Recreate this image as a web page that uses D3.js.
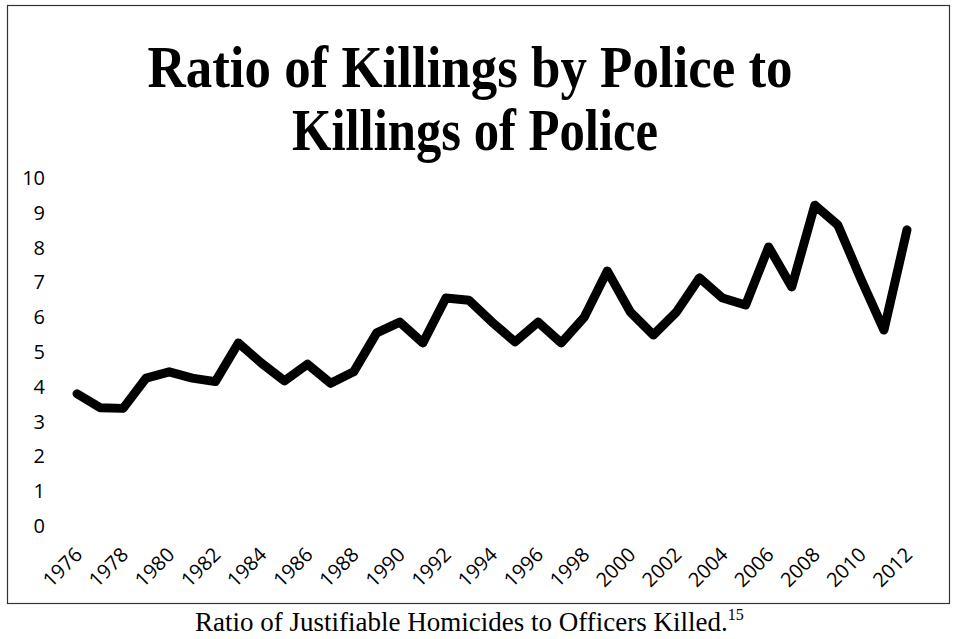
<!DOCTYPE html>
<html>
<head>
<meta charset="utf-8">
<script src="https://cdn.jsdelivr.net/npm/d3@7"></script>
<style>
  html, body { margin: 0; padding: 0; background: #fff; }
  svg { display: block; }
</style>
</head>
<body>
<svg id="chart" width="953" height="639"></svg>
<script>
// ---- data ----
const years = d3.range(1976, 2013);
const ratios = [3.8, 3.4, 3.38, 4.25, 4.43, 4.25, 4.15, 5.26, 4.68, 4.17, 4.65, 4.1, 4.43,
                5.55, 5.86, 5.26, 6.55, 6.49, 5.86, 5.29, 5.86, 5.26, 6.0, 7.33, 6.15, 5.49,
                6.15, 7.13, 6.55, 6.35, 8.02, 6.87, 9.22, 8.65, 7.1, 5.63, 8.51];
const yTicks = [0, 1, 2, 3, 4, 5, 6, 7, 8, 9, 10];
const xTickYears = years.filter(y => (y - 1976) % 2 === 0);
const titleLines = ["Ratio of Killings by Police to", "Killings of Police"];
const captionText = "Ratio of Justifiable Homicides to Officers Killed.";
const footnote = "15";

const svg = d3.select("#chart");

// frame
svg.append("rect")
  .attr("x", 7.5).attr("y", 5.5).attr("width", 942).attr("height", 598)
  .attr("fill", "none").attr("stroke", "#333").attr("stroke-width", 1.2);

// title
const titleY = [87, 150];
const titleW = [645, 366];
const titleX = [470, 475];
titleLines.forEach((t, i) => {
  svg.append("text")
    .attr("x", titleX[i]).attr("y", titleY[i])
    .attr("text-anchor", "middle")
    .attr("font-family", "Liberation Serif, serif")
    .attr("font-weight", "bold")
    .attr("font-size", 60)
    .attr("textLength", titleW[i])
    .attr("lengthAdjust", "spacingAndGlyphs")
    .attr("fill", "#000")
    .text(t);
});

// scales
const x = d3.scalePoint().domain(years).range([77, 907]);
const y = d3.scaleLinear().domain([0, 10]).range([526, 178]);

// y axis
const yAxis = svg.append("g")
  .attr("transform", "translate(48,0)")
  .call(d3.axisLeft(y).tickValues(yTicks).tickSize(0).tickPadding(3).tickFormat(d3.format("d")));
yAxis.select(".domain").remove();
yAxis.selectAll("text")
  .attr("font-family", "Open Sans, sans-serif")
  .attr("font-size", 20)
  .attr("fill", "#000");

// x axis
const xAxis = svg.append("g")
  .attr("transform", "translate(0,526)")
  .call(d3.axisBottom(x).tickValues(xTickYears).tickSize(0));
xAxis.select(".domain").remove();
xAxis.selectAll("text")
  .attr("x", 0).attr("y", 0).attr("dy", 0)
  .attr("text-anchor", "end")
  .attr("transform", "translate(6,30) rotate(-45)")
  .attr("font-family", "Open Sans, sans-serif")
  .attr("font-size", 20)
  .attr("fill", "#000");

// line
const line = d3.line()
  .x((d, i) => x(years[i]))
  .y(d => y(d));
svg.append("path")
  .datum(ratios)
  .attr("d", line)
  .attr("fill", "none")
  .attr("stroke", "#000")
  .attr("stroke-width", 9)
  .attr("stroke-linejoin", "round")
  .attr("stroke-linecap", "round");

// caption
const cap = svg.append("text")
  .attr("x", 195).attr("y", 631)
  .attr("font-family", "Liberation Serif, serif")
  .attr("font-size", 27)
  .attr("fill", "#000");
cap.append("tspan").text(captionText);
cap.append("tspan").attr("dy", -11).attr("font-size", 16).text(footnote);
</script>
</body>
</html>
